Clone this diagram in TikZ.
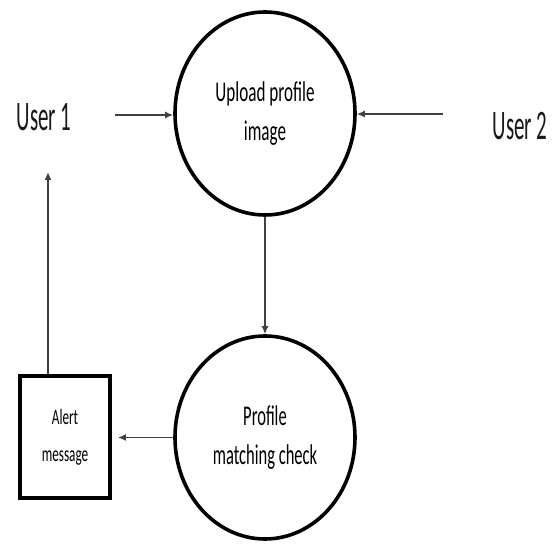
\documentclass[tikz,border=0pt]{standalone}
\usepackage{fontspec}
\usepackage{graphicx}
\setmainfont{Carlito}
\usetikzlibrary{shapes.geometric,arrows.meta}
% horizontally condensed text
\newcommand\cnd[2]{\scalebox{#1}[1]{#2}}
\tikzset{
  proc/.style={ellipse, draw=black, line width=3.6pt, minimum width=180pt,
    minimum height=203pt, inner sep=0pt, align=center, text=black,
    font=\fontsize{28.5}{39}\selectfont},
  store/.style={rectangle, draw=black, line width=3.8pt, minimum width=90pt,
    minimum height=122pt, inner sep=0pt, align=center, text=black,
    font=\fontsize{22}{37}\selectfont},
  actor/.style={inner sep=0pt, text=black!90, font=\fontsize{42}{42}\selectfont},
  flow/.style={draw=black!75, line width=1.8pt, -{Latex[length=8pt,width=7pt]}}
}
\begin{document}
\begin{tikzpicture}[x=1pt, y=-1pt]
  \useasboundingbox[fill=white] (0,0) rectangle (560,545);

  % processes
  \node[proc] (up)  at (265,113.5) {\cnd{0.6}{Upload profile}\\\cnd{0.6}{image}};
  \node[proc] (chk) at (265,437.5) {\cnd{0.58}{Profile}\\\cnd{0.58}{matching check}};

  % data store / output
  \node[store] (alert) at (65,437) {\cnd{0.6}{Alert}\\\cnd{0.6}{message}};

  % external entities
  \node[actor] (u1) at (44,117) {\cnd{0.5}{User 1}};
  \node[actor] (u2) at (520,126) {\cnd{0.5}{User 2}};

  % free ends of the flows
  \coordinate (s1) at (115,115);
  \coordinate (s2) at (443,114);
  \coordinate (t1) at (48,172);

  % flows
  \draw[flow] (s1) -- (s1 -| up.west);
  \draw[flow] (s2) -- (s2 -| up.east);
  \draw[flow] (up.south) -- (chk.north);
  \draw[flow] (chk.west) -- ([xshift=6pt]alert.east |- chk.west);
  \draw[flow] (alert.north -| t1) -- (t1);
\end{tikzpicture}
\end{document}
